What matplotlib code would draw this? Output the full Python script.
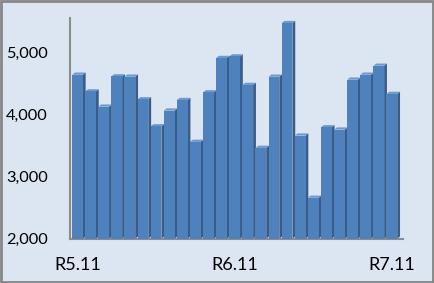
import numpy as np
import matplotlib
matplotlib.use('Agg')
import matplotlib.pyplot as plt
from matplotlib.patches import Polygon

# monthly values, R5.11 .. R7.11
values = [4645, 4376, 4130, 4618, 4613, 4248, 3813, 4066, 4237, 3562,
          4361, 4915, 4940, 4480, 3465, 4613, 5478, 3663, 2660, 3797,
          3760, 4565, 4645, 4790, 4335]
tick_pos = [0, 12, 24]
tick_labels = ['R5.11', 'R6.11', 'R7.11']
y_ticks = [2000, 3000, 4000, 5000]

W, H = 434, 283
bg = '#dce6f2'
front = '#4f81bd'
side = '#385d8a'
top_c = '#6f98cc'

plt.rcParams['font.family'] = ['Lato', 'DejaVu Sans']

fig = plt.figure(figsize=(W / 100, H / 100), dpi=100)
fig.patch.set_facecolor(bg)

ax_l, ax_r, ax_b, ax_t = 70, 403, 238.7, 18
ax = fig.add_axes([ax_l / W, 1 - ax_b / H, (ax_r - ax_l) / W, (ax_b - ax_t) / H])
ax.set_facecolor(bg)

xmin, xmax = -0.57, 24.85
ymin, ymax = 2000, 5560
ax.set_xlim(xmin, xmax)
ax.set_ylim(ymin, ymax)

# pixel -> data offsets for the depth effect
px_x = (xmax - xmin) / (ax_r - ax_l)
px_y = (ymax - ymin) / (ax_b - ax_t)
dx, dy = 2.8 * px_x, 2.2 * px_y

x = np.arange(len(values))
w = 0.82
ax.bar(x, np.array(values) - ymin, bottom=ymin, width=w, color=front,
       edgecolor='none', zorder=3)
for xi, v in zip(x, values):
    r = xi + w / 2
    l = xi - w / 2
    ax.add_patch(Polygon([[r, ymin], [r + dx, ymin + dy], [r + dx, v + dy], [r, v]],
                         closed=True, facecolor=side, edgecolor='none', zorder=2))
    ax.add_patch(Polygon([[l, v], [l + dx, v + dy], [r + dx, v + dy], [r, v]],
                         closed=True, facecolor=top_c, edgecolor='none', zorder=2))

for s in ['top', 'right']:
    ax.spines[s].set_visible(False)
ax.spines['left'].set_color('#8c8c8c')
ax.spines['left'].set_linewidth(1.5)
ax.spines['bottom'].set_color('#8c8c8c')
ax.spines['bottom'].set_linewidth(1.5)

ax.set_yticks(y_ticks)
ax.set_yticklabels([f'{v:,}' for v in y_ticks], fontsize=11.8)
ax.set_xticks(tick_pos)
ax.set_xticklabels(tick_labels, fontsize=13)
ax.tick_params(axis='y', length=0, pad=16)
ax.tick_params(axis='x', length=0, pad=13)

# chart border
fig.add_artist(plt.Rectangle((0.002, 0.003), 0.995, 0.993, transform=fig.transFigure,
                             fill=False, edgecolor='#868686', linewidth=2))

fig.savefig('out.png', dpi=100, facecolor=bg)
